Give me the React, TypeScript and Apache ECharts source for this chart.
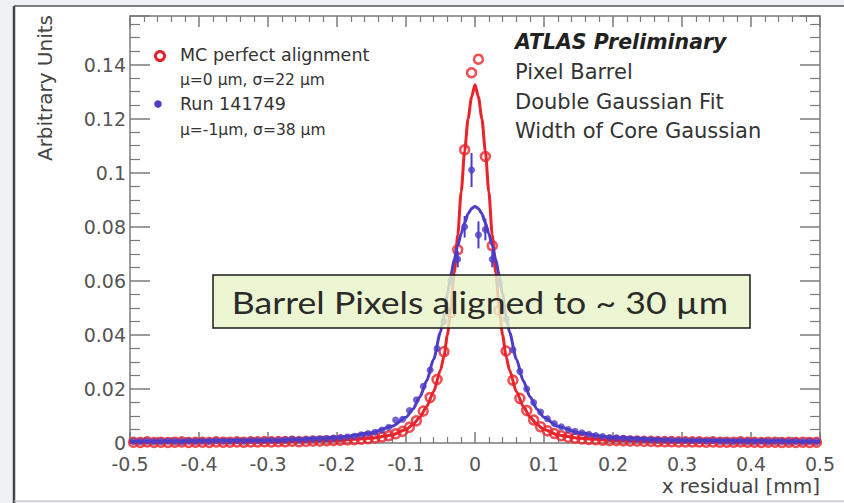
import React, { useEffect, useRef } from "react";
import * as echarts from "echarts";

// Bin centres of the residual histograms (mm)
const BIN_X = [
  -0.495, -0.485, -0.475, -0.465, -0.455, -0.445, -0.435, -0.425, -0.415, -0.405,
  -0.395, -0.385, -0.375, -0.365, -0.355, -0.345, -0.335, -0.325, -0.315, -0.305,
  -0.295, -0.285, -0.275, -0.265, -0.255, -0.245, -0.235, -0.225, -0.215, -0.205,
  -0.195, -0.185, -0.175, -0.165, -0.155, -0.145, -0.135, -0.125, -0.115, -0.105,
  -0.095, -0.085, -0.075, -0.065, -0.055, -0.045, -0.035, -0.025, -0.015, -0.005,
  0.005, 0.015, 0.025, 0.035, 0.045, 0.055, 0.065, 0.075, 0.085, 0.095,
  0.105, 0.115, 0.125, 0.135, 0.145, 0.155, 0.165, 0.175, 0.185, 0.195,
  0.205, 0.215, 0.225, 0.235, 0.245, 0.255, 0.265, 0.275, 0.285, 0.295,
  0.305, 0.315, 0.325, 0.335, 0.345, 0.355, 0.365, 0.375, 0.385, 0.395,
  0.405, 0.415, 0.425, 0.435, 0.445, 0.455, 0.465, 0.475, 0.485, 0.495,
];

// MC perfect alignment (normalised)
const MC_Y = [
  0.0003, 0.0002, 0.0004, 0.0002, 0.0003, 0.0002, 0.0003, 0.0004, 0.0002, 0.0003,
  0.0003, 0.0002, 0.0004, 0.0003, 0.0003, 0.0004, 0.0003, 0.0004, 0.0004, 0.0005,
  0.0004, 0.0005, 0.0005, 0.0006, 0.0005, 0.0006, 0.0007, 0.0007, 0.0008, 0.0009,
  0.001, 0.0011, 0.0012, 0.0014, 0.0016, 0.0019, 0.0022, 0.0027, 0.0034, 0.0043,
  0.0058, 0.0082, 0.0118, 0.0168, 0.0235, 0.0338, 0.0482, 0.0715, 0.1085, 0.137,
  0.142, 0.106, 0.073, 0.049, 0.034, 0.0232, 0.0165, 0.012, 0.0085, 0.006,
  0.0045, 0.0035, 0.0027, 0.0021, 0.0018, 0.0015, 0.0013, 0.0012, 0.001, 0.0009,
  0.0009, 0.0008, 0.0007, 0.0007, 0.0006, 0.0006, 0.0005, 0.0005, 0.0005, 0.0004,
  0.0004, 0.0004, 0.0004, 0.0003, 0.0004, 0.0003, 0.0003, 0.0003, 0.0004, 0.0003,
  0.0003, 0.0002, 0.0003, 0.0003, 0.0002, 0.0003, 0.0002, 0.0003, 0.0002, 0.0003,
];

// Run 141749 (normalised)
const RUN_Y = [
  0.0006, 0.0005, 0.0007, 0.0005, 0.0006, 0.0007, 0.0006, 0.0005, 0.0007, 0.0006,
  0.0007, 0.0006, 0.0008, 0.0007, 0.0007, 0.0008, 0.0007, 0.0009, 0.0008, 0.0009,
  0.001, 0.0009, 0.0011, 0.0014, 0.0011, 0.0013, 0.0014, 0.0015, 0.0016, 0.0018,
  0.002, 0.0022, 0.0025, 0.003, 0.0035, 0.004, 0.0048, 0.0058, 0.0085, 0.0088,
  0.012, 0.016, 0.021, 0.027, 0.035, 0.045, 0.06, 0.068, 0.08, 0.101,
  0.077, 0.079, 0.068, 0.059, 0.046, 0.0345, 0.0265, 0.02, 0.015, 0.0115,
  0.009, 0.0072, 0.006, 0.005, 0.0043, 0.0038, 0.0032, 0.0028, 0.0024, 0.002,
  0.0019, 0.0017, 0.0015, 0.0014, 0.0013, 0.0012, 0.0011, 0.001, 0.001, 0.0009,
  0.0009, 0.0008, 0.0008, 0.0007, 0.0008, 0.0007, 0.0007, 0.0006, 0.0007, 0.0006,
  0.0006, 0.0007, 0.0005, 0.0006, 0.0006, 0.0005, 0.0006, 0.0005, 0.0006, 0.0005,
];

// Statistical errors on the central data bins
const RUN_ERR_X = [-0.025, -0.015, -0.005, 0.005, 0.015, 0.025];
const RUN_ERR = [0.003, 0.004, 0.0063, 0.005, 0.004, 0.003];

// Double Gaussian fit curves
const FIT_X = [
  -0.5, -0.3, -0.2, -0.15, -0.12, -0.1, -0.09, -0.08, -0.07, -0.06, -0.05, -0.045,
  -0.04, -0.035, -0.03, -0.025, -0.02, -0.015, -0.01, -0.005, 0, 0.005, 0.01, 0.015,
  0.02, 0.025, 0.03, 0.035, 0.04, 0.045, 0.05, 0.06, 0.07, 0.08, 0.09, 0.1, 0.12,
  0.15, 0.2, 0.3, 0.5,
];
const MC_FIT = [
  0.0002, 0.0004, 0.0009, 0.0018, 0.003, 0.005, 0.0068, 0.0095, 0.0135, 0.019, 0.027,
  0.032, 0.04, 0.05, 0.063, 0.077, 0.093, 0.108, 0.12, 0.128, 0.1326, 0.128, 0.12,
  0.108, 0.093, 0.077, 0.063, 0.05, 0.04, 0.032, 0.027, 0.019, 0.0135, 0.0095, 0.0068,
  0.005, 0.003, 0.0018, 0.0009, 0.0004, 0.0002,
];
const RUN_FIT = [
  0.0006, 0.001, 0.002, 0.0038, 0.0062, 0.0095, 0.0125, 0.017, 0.023, 0.031, 0.041,
  0.047, 0.055, 0.062, 0.068, 0.073, 0.0775, 0.0815, 0.0848, 0.0868, 0.0875, 0.0868,
  0.0848, 0.0815, 0.0775, 0.073, 0.068, 0.062, 0.055, 0.047, 0.041, 0.031, 0.023,
  0.017, 0.0125, 0.0095, 0.0062, 0.0038, 0.002, 0.001, 0.0006,
];

const RED = "#e8232a";
const BLUE = "#4d3cc6";
const AXIS = "#7a7a7a";
const TEXT = "#333333";
const FONT = "DejaVu Sans";

const fmt = (v: number) => (Math.abs(v) < 1e-9 ? "0" : String(+v.toFixed(3)));

export default function App() {
  const ref = useRef<HTMLDivElement>(null);

  useEffect(() => {
    const chart = echarts.init(ref.current!, null, { renderer: "svg" });

    const xCommon = {
      type: "value" as const,
      min: -0.5,
      max: 0.5,
      interval: 0.1,
      splitLine: { show: false },
      axisLine: { show: true, onZero: false, lineStyle: { color: AXIS, width: 1.5 } },
      axisTick: { show: true, inside: true, length: 11, lineStyle: { color: AXIS, width: 1.5 } },
      minorTick: { show: true, splitNumber: 5, length: 6, lineStyle: { color: AXIS, width: 1.2 } },
    };
    const yCommon = {
      type: "value" as const,
      min: 0,
      max: 0.158,
      interval: 0.02,
      splitLine: { show: false },
      axisLine: { show: true, onZero: false, lineStyle: { color: AXIS, width: 1.5 } },
      axisTick: { show: true, inside: true, length: 20, lineStyle: { color: AXIS, width: 1.5 } },
      minorTick: { show: true, splitNumber: 4, length: 10, lineStyle: { color: AXIS, width: 1.2 } },
    };

    const option: any = {
      animation: false,
      backgroundColor: "#ffffff",
      grid: { left: 130, right: 24, top: 16, bottom: 60 },
      xAxis: [
        {
          ...xCommon,
          position: "bottom",
          axisLabel: {
            show: true,
            margin: 11,
            fontSize: 19,
            lineHeight: 19,
            fontFamily: FONT,
            color: "#555",
            formatter: fmt,
          },
        },
        { ...xCommon, position: "top", axisLabel: { show: false } },
      ],
      yAxis: [
        {
          ...yCommon,
          position: "left",
          axisLabel: {
            show: true,
            margin: 4,
            fontSize: 19,
            lineHeight: 18,
            fontFamily: FONT,
            color: "#555",
            showMaxLabel: false,
            formatter: fmt,
          },
        },
        { ...yCommon, position: "right", axisLabel: { show: false } },
      ],
      series: [
        {
          name: "MC fit",
          type: "line",
          data: FIT_X.map((x, i) => [x, MC_FIT[i]]),
          showSymbol: false,
          smooth: 0.25,
          smoothMonotone: "x",
          lineStyle: { color: RED, width: 3 },
          z: 3,
        },
        {
          name: "MC perfect alignment",
          type: "scatter",
          data: BIN_X.map((x, i) => [x, MC_Y[i]]),
          symbol: "circle",
          symbolSize: 9,
          itemStyle: { color: "rgba(255,255,255,0)", borderColor: RED, borderWidth: 2.5 },
          z: 4,
        },
        {
          name: "Run fit",
          type: "line",
          data: FIT_X.map((x, i) => [x, RUN_FIT[i]]),
          showSymbol: false,
          smooth: 0.25,
          smoothMonotone: "x",
          lineStyle: { color: BLUE, width: 3 },
          z: 5,
        },
        {
          name: "Run 141749",
          type: "scatter",
          data: BIN_X.map((x, i) => [x, RUN_Y[i]]),
          symbol: "circle",
          symbolSize: 7,
          itemStyle: { color: BLUE },
          z: 6,
        },
        {
          name: "Run errors",
          type: "custom",
          data: RUN_ERR_X.map((x, i) => [x, RUN_Y[BIN_X.indexOf(x)], RUN_ERR[i]]),
          renderItem: (_p: any, api: any) => {
            const x = api.value(0);
            const y = api.value(1);
            const e = api.value(2);
            const a = api.coord([x, y + e]);
            const b = api.coord([x, y - e]);
            return {
              type: "line",
              shape: { x1: a[0], y1: a[1], x2: b[0], y2: b[1] },
              style: { stroke: BLUE, lineWidth: 2 },
            };
          },
          z: 6,
        },
      ],
      graphic: [
        // page frame
        { type: "rect", z: -10, shape: { x: 0, y: 0, width: 14, height: 503 }, style: { fill: "#eef0f3" } },
        { type: "rect", z: -10, shape: { x: 0, y: 0, width: 844, height: 6 }, style: { fill: "#eef0f3" } },
        { type: "rect", z: -10, shape: { x: 0, y: 501, width: 844, height: 2 }, style: { fill: "#eef0f3" } },
        { type: "line", z: -9, shape: { x1: 14, y1: 6, x2: 14, y2: 503 }, style: { stroke: "#444", lineWidth: 2.5 } },
        { type: "line", z: -9, shape: { x1: 14, y1: 6, x2: 844, y2: 6 }, style: { stroke: "#555", lineWidth: 1.5 } },
        { type: "line", z: -9, shape: { x1: 14, y1: 501, x2: 844, y2: 501 }, style: { stroke: "#b8b8b8", lineWidth: 1 } },
        // axis titles
        {
          type: "text",
          x: 45,
          y: 15,
          rotation: Math.PI / 2,
          style: {
            text: "Arbitrary Units",
            fontSize: 20,
            fontFamily: FONT,
            fill: "#444",
            align: "right",
            verticalAlign: "middle",
          },
        },
        {
          type: "text",
          x: 820,
          y: 486,
          style: {
            text: "x residual [mm]",
            fontSize: 20,
            fontFamily: FONT,
            fill: "#444",
            align: "right",
            verticalAlign: "middle",
          },
        },
        // legend
        { type: "circle", z: 20, shape: { cx: 160, cy: 56, r: 4.5 }, style: { fill: "#fff", stroke: RED, lineWidth: 3 } },
        {
          type: "text", x: 180, y: 55,
          style: { text: "MC perfect alignment", fontSize: 17.5, fontFamily: FONT, fill: TEXT, verticalAlign: "middle" },
        },
        {
          type: "text", x: 180, y: 80,
          style: { text: "μ=0 μm, σ=22 μm", fontSize: 15.5, fontFamily: FONT, fill: TEXT, verticalAlign: "middle" },
        },
        { type: "circle", z: 20, shape: { cx: 158, cy: 104, r: 3.8 }, style: { fill: BLUE } },
        {
          type: "text", x: 180, y: 104,
          style: { text: "Run 141749", fontSize: 17.5, fontFamily: FONT, fill: TEXT, verticalAlign: "middle" },
        },
        {
          type: "text", x: 180, y: 130,
          style: { text: "μ=-1μm, σ=38 μm", fontSize: 15.5, fontFamily: FONT, fill: TEXT, verticalAlign: "middle" },
        },
        // plot description
        {
          type: "text", x: 515, y: 42,
          style: {
            text: "ATLAS Preliminary", fontSize: 20.5, fontFamily: FONT, fontWeight: "bold",
            fontStyle: "italic", fill: "#222", verticalAlign: "middle",
          },
        },
        {
          type: "text", x: 515, y: 72,
          style: { text: "Pixel Barrel", fontSize: 21, fontFamily: FONT, fill: TEXT, verticalAlign: "middle" },
        },
        {
          type: "text", x: 515, y: 102,
          style: { text: "Double Gaussian Fit", fontSize: 21, fontFamily: FONT, fill: TEXT, verticalAlign: "middle" },
        },
        {
          type: "text", x: 515, y: 131,
          style: { text: "Width of Core Gaussian", fontSize: 21, fontFamily: FONT, fill: TEXT, verticalAlign: "middle" },
        },
        // highlighted statement
        {
          type: "rect",
          z: 100,
          shape: { x: 213, y: 275, width: 537, height: 53 },
          style: { fill: "rgba(232,244,200,0.82)", stroke: "#1a1a1a", lineWidth: 1.5 },
        },
        {
          type: "text",
          z: 101,
          x: 480,
          y: 302,
          scaleX: 1.15,
          style: {
            text: "Barrel Pixels aligned to ~ 30 µm",
            fontSize: 31,
            fontFamily: "Lato",
            fill: "#2a2a2a",
            align: "center",
            verticalAlign: "middle",
          },
        },
      ],
    };

    chart.setOption(option);
    return () => chart.dispose();
  }, []);

  return (
    <div style={{ position: "fixed", left: 0, top: 0, width: 844, height: 503 }}>
      <div ref={ref} style={{ width: 844, height: 503 }} />
    </div>
  );
}
